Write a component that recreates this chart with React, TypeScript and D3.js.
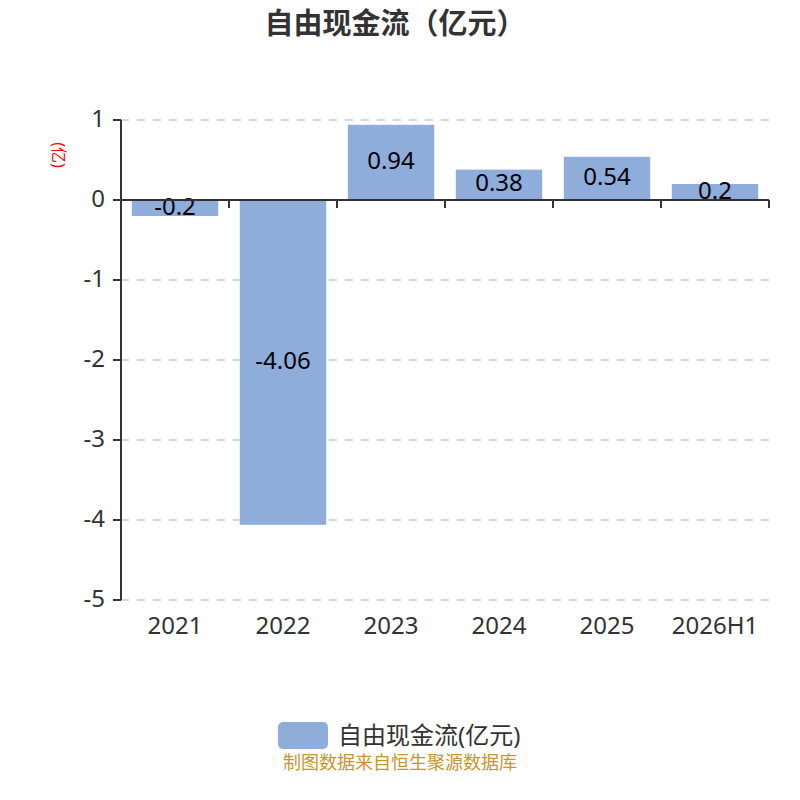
import React from "react";
import * as d3 from "d3";

const categories = ["2021", "2022", "2023", "2024", "2025", "2026H1"];
const values = [-0.2, -4.06, 0.94, 0.38, 0.54, 0.2];
const yTicks = [1, 0, -1, -2, -3, -4, -5];
const title = "自由现金流（亿元）";
const seriesName = "自由现金流(亿元)";
const yName = "(亿)";
const footer = "制图数据来自恒生聚源数据库";

const W = 800;
const H = 800;
const left = 121;
const right = 769;
const top = 120;
const bottom = 600;
const font = "'Noto Sans', 'Noto Sans CJK SC', sans-serif";
const barColor = "#8eaddb";

export default function App() {
  const x = d3.scaleBand<string>().domain(categories).range([left, right]).paddingInner(0.2).paddingOuter(0.1);
  const xb = d3.scaleBand<string>().domain(categories).range([left, right]);
  const y = d3.scaleLinear().domain([-5, 1]).range([bottom, top]);
  const y0 = y(0);

  return (
    <svg width={W} height={H} style={{ position: "absolute", left: 0, top: 0, background: "#fff" }} fontFamily={font}>
      <text x={395} y={22} textAnchor="middle" dominantBaseline="central" fontSize={29} fontWeight="bold" fill="#333">
        {title}
      </text>
      <text
        transform={`translate(59,155) rotate(90)`}
        textAnchor="middle"
        fontSize={16}
        fill="#ff0000"
        dominantBaseline="central"
      >
        {yName}
      </text>
      {yTicks.filter((t) => t !== 0).map((t) => (
        <line key={t} x1={left} x2={right} y1={y(t)} y2={y(t)} stroke="#cccccc" strokeDasharray="8,8" strokeWidth={1.5} />
      ))}
      {categories.map((c, i) => {
        const v = values[i];
        const bx = x(c)!;
        const by = Math.min(y(v), y0);
        const bh = Math.abs(y(v) - y0);
        return (
          <g key={c}>
            <rect x={bx} y={by} width={x.bandwidth()} height={bh} fill={barColor} />
            <text
              x={bx + x.bandwidth() / 2}
              y={by + bh / 2 - 3}
              textAnchor="middle"
              dominantBaseline="central"
              fontSize={24}
              fill="#000"
            >
              {String(v)}
            </text>
          </g>
        );
      })}
      <line x1={left} x2={left} y1={top} y2={bottom} stroke="#333" strokeWidth={2} />
      {yTicks.map((t) => (
        <g key={t}>
          <line x1={left - 8} x2={left} y1={y(t)} y2={y(t)} stroke="#333" strokeWidth={2} />
          <text x={left - 16} y={y(t) - 3} textAnchor="end" dominantBaseline="central" fontSize={24} fill="#333">
            {String(t)}
          </text>
        </g>
      ))}
      <line x1={left} x2={right} y1={y0} y2={y0} stroke="#333" strokeWidth={2} />
      {categories.map((c) => (
        <line key={c} x1={xb(c)! + xb.bandwidth()} x2={xb(c)! + xb.bandwidth()} y1={y0} y2={y0 + 8} stroke="#333" strokeWidth={2} />
      ))}
      <line x1={left} x2={left} y1={y0} y2={y0 + 8} stroke="#333" strokeWidth={2} />
      {categories.map((c) => (
        <text key={c} x={xb(c)! + xb.bandwidth() / 2} y={624} textAnchor="middle" dominantBaseline="central" fontSize={24} fill="#333">
          {c}
        </text>
      ))}
      <rect x={278} y={722} width={50} height={27} rx={5} fill={barColor} />
      <text x={338} y={734} dominantBaseline="central" fontSize={24} fill="#333">
        {seriesName}
      </text>
      <text x={400} y={762} textAnchor="middle" dominantBaseline="central" fontSize={18} fill="#c8962c">
        {footer}
      </text>
    </svg>
  );
}
